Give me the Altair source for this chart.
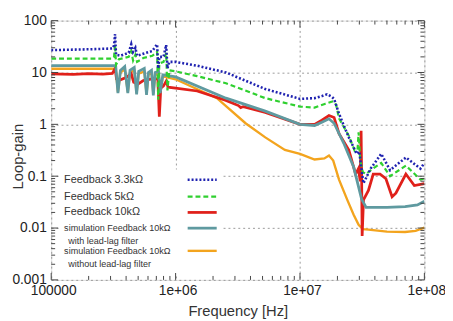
import altair as alt
import pandas as pd

# ---------------- data ----------------
fb33_freq = [1e5, 2e5, 3.1e5, 3.2e5, 3.26e5, 3.32e5, 3.6e5, 4.2e5, 4.4e5, 4.55e5, 4.75e5, 4.9e5,
             5.5e5, 6.5e5, 7.1e5, 7.25e5, 7.4e5, 8.0e5, 8.4e5, 8.6e5, 8.9e5, 1e6, 1.49e6, 2.54e6,
             5.26e6, 1e7, 1.31e7, 1.5e7, 1.65e7, 1.8e7, 1.88e7, 2.06e7, 2.25e7, 2.47e7, 2.7e7,
             2.85e7, 3.0e7, 3.1e7, 3.24e7, 3.7e7, 4.5e7, 5.3e7, 7.1e7, 9.3e7, 1e8]
fb33_gain = [27, 28, 29, 33, 55, 22, 21, 24, 35, 25, 30, 21,
             23, 26, 35, 12, 20, 20, 34, 12, 16, 16, 13.5, 10,
             4.8, 3.1, 3.2, 3.5, 3.8, 3.4, 3.1, 1.6, 0.95, 0.56, 0.36,
             0.27, 0.3, 0.15, 0.073, 0.14, 0.27, 0.13, 0.23, 0.14, 0.18]

fb5_freq = [1e5, 2e5, 3.1e5, 3.2e5, 3.26e5, 3.32e5, 3.5e5, 4.2e5, 4.4e5, 4.55e5, 4.75e5, 4.9e5,
            5.5e5, 6.5e5, 7.1e5, 7.25e5, 7.4e5, 8.0e5, 8.4e5, 8.6e5, 8.9e5, 1e6, 1.49e6, 2.54e6,
            5.26e6, 1e7, 1.31e7, 1.6e7, 1.85e7, 1.95e7, 2.06e7, 2.47e7, 2.75e7, 2.9e7, 2.96e7,
            3.05e7, 3.2e7, 3.4e7, 3.7e7, 4.5e7, 5.3e7, 7.1e7, 9.3e7, 1e8]
fb5_gain = [18.5, 18.5, 18.5, 20, 35, 14, 18, 20, 26, 17, 22, 16,
            19, 21, 25, 3.0, 15, 16, 24, 4.5, 11, 10.5, 8.5, 6.2,
            3.2, 2.2, 2.1, 2.5, 2.8, 2.4, 1.3, 0.6, 0.31, 0.32, 0.7,
            0.2, 0.12, 0.11, 0.13, 0.18, 0.1, 0.16, 0.086, 0.09]

fb10_freq = [1e5, 1.5e5, 2e5, 2.6e5, 3.1e5, 3.2e5, 3.26e5, 3.35e5, 3.6e5, 4e5, 4.4e5, 4.6e5,
             5e5, 5.5e5, 6.5e5, 7.2e5, 7.4e5, 7.6e5, 8.0e5, 8.4e5, 8.7e5, 1e6, 1.49e6, 2.54e6,
             3.2e6, 3.34e6, 3.5e6, 5.26e6, 1e7, 1.31e7, 1.5e7, 1.71e7, 1.88e7, 2.06e7, 2.47e7,
             2.8e7, 2.95e7, 3.05e7, 3.1e7, 3.13e7, 3.16e7, 3.24e7, 3.55e7, 3.88e7, 4.4e7, 4.9e7,
             5.5e7, 5.9e7, 7.1e7, 8.3e7, 1e8]
fb10_gain = [9.4, 9.2, 9.5, 9.3, 9.6, 11, 12, 7.5, 7.2, 8, 9.5, 6.5,
             6, 7, 7.5, 7.5, 1.4, 5, 5.5, 6.8, 5.2, 5.0, 4.4, 2.9,
             2.3, 2.1, 2.2, 1.7, 1.0, 1.0, 1.2, 1.48, 1.35, 0.66, 0.32,
             0.11, 0.14, 0.08, 0.75, 0.1, 0.007, 0.035, 0.053, 0.11, 0.11, 0.09,
             0.04, 0.047, 0.11, 0.066, 0.072]

simA_freq = [1e5, 3.3e5, 3.44e5, 3.6e5, 3.9e5, 4.13e5, 4.3e5, 4.65e5, 4.86e5, 5.05e5, 5.6e5,
             5.84e5, 6.05e5, 6.4e5, 6.62e5, 6.85e5, 7.3e5, 7.52e5, 7.9e5, 1e6, 2.54e6, 5.26e6,
             1e7, 1.31e7, 1.5e7, 1.71e7, 1.88e7, 2.25e7, 2.7e7, 3.13e7, 3.4e7, 5e7, 7e7, 8.8e7, 1e8]
simA_gain = [13.5, 13.5, 4.0, 11, 13, 4.0, 11, 12.5, 3.8, 10.5, 12,
             3.7, 10, 11, 3.6, 10, 10.5, 4, 9, 8.2, 3.2, 1.8,
             1.0, 0.95, 1.1, 1.28, 1.05, 0.43, 0.15, 0.036, 0.025, 0.025, 0.026, 0.028, 0.033]

simB_freq = [1e5, 3.3e5, 3.44e5, 3.6e5, 3.9e5, 4.13e5, 4.3e5, 4.65e5, 4.86e5, 5.05e5, 5.6e5,
             5.84e5, 6.05e5, 6.4e5, 6.62e5, 6.85e5, 7.3e5, 7.52e5, 7.9e5, 1e6, 2.15e6, 3.65e6,
             5.26e6, 7.56e6, 1e7, 1.31e7, 1.57e7, 1.71e7, 1.85e7, 2.06e7, 2.4e7, 2.7e7, 2.96e7,
             3.2e7, 3.55e7, 5e7, 7e7, 8.5e7, 1e8]
simB_gain = [11.8, 11.8, 4.2, 10, 11.5, 4.2, 10, 11, 4, 9.5, 10.5,
             3.9, 9, 10, 3.9, 9, 9.5, 4.2, 8.4, 7.4, 3.2, 1.05,
             0.56, 0.32, 0.27, 0.21, 0.22, 0.25, 0.2, 0.086, 0.035, 0.018, 0.0115,
             0.0095, 0.0093, 0.0085, 0.0084, 0.0088, 0.0102]

series_names = ["Feedback 3.3kΩ", "Feedback 5kΩ", "Feedback 10kΩ",
                "simulation Feedback 10kΩ", "simulation  Feedback 10kΩ"]
series_sub = ["", "", "", "with lead-lag filter", "without lead-lag filter"]
series_colors = ["#1f22b0", "#2fd02f", "#e0201a", "#5f9aa0", "#f3a41e"]

# legend placement (data coordinates)
legend_text_freq = 1.27e5
legend_sub_freq = 1.37e5
legend_line_freq = [1.25e6, 2.14e6]
legend_y = [0.085, 0.0404, 0.020, 0.00995, 0.00363]
legend_sub_y = [None, None, None, 0.0056, 0.00206]
legend_box_freq = [1.2e5, 2.37e6]
legend_box_gain = [0.00125, 0.135]

x_ticks = [1e5, 1e6, 1e7, 1e8]
x_tick_labels = ["100000", "1e+06", "1e+07", "1e+08"]
y_ticks = [0.001, 0.01, 0.1, 1, 10, 100]
y_tick_labels = ["0.001", "0.01", "0.1", "1", "10", "100"]
x_minor = [k * 10 ** n for n in (5, 6, 7) for k in range(2, 10)]
y_minor = [k * 10.0 ** n for n in (-3, -2, -1, 0, 1) for k in range(2, 10)]

# ---------------- chart ----------------
W, H = 380, 264
FONT = "Liberation Sans"


def label_expr(vals, labs):
    s = ""
    for v, l in zip(vals, labs):
        s += f"abs(datum.value - {v}) < {v} * 1e-6 ? '{l}' : "
    return s + "''"


xscale = alt.Scale(type="log", domain=[1e5, 1e8], nice=False)
yscale = alt.Scale(type="log", domain=[0.001, 100], nice=False)

xaxis = alt.Axis(values=x_ticks, labelExpr=label_expr(x_ticks, x_tick_labels), ticks=False,
                 grid=True, gridDash=[2, 3], gridColor="#9a9a9a", domain=False,
                 labelFontSize=14, labelFont=FONT, labelColor="#222", labelPadding=4,
                 labelOffset=2,
                 title="Frequency [Hz]", titleFontSize=15, titleFont=FONT, titleFontWeight="normal",
                 titleColor="#333", titleY=24, titleBaseline="top", labelFlush=False)
yaxis = alt.Axis(values=y_ticks, labelExpr=label_expr(y_ticks, y_tick_labels), ticks=False,
                 grid=True, gridDash=[2, 3], gridColor="#9a9a9a", domain=False,
                 labelFontSize=14, labelFont=FONT, labelColor="#222", labelPadding=5,
                 title="Loop-gain", titleFontSize=15, titleFont=FONT, titleFontWeight="normal",
                 titleColor="#333", titleX=-26, titleY=138, titleAlign="center", labelFlush=False)

X = alt.X("f:Q", scale=xscale, axis=xaxis)
Y = alt.Y("g:Q", scale=yscale, axis=yaxis)

freqs = [fb33_freq, fb5_freq, fb10_freq, simA_freq, simB_freq]
gains = [fb33_gain, fb5_gain, fb10_gain, simA_gain, simB_gain]
styles = [
    dict(strokeWidth=2.6, strokeDash=[2, 2]),
    dict(strokeWidth=2.2, strokeDash=[5, 3]),
    dict(strokeWidth=2.8),
    dict(strokeWidth=2.8),
    dict(strokeWidth=2.4),
]

# legend background box
box_df = pd.DataFrame({"f": [legend_box_freq[0]], "f2": [legend_box_freq[1]],
                       "g": [legend_box_gain[0]], "g2": [legend_box_gain[1]]})
box = alt.Chart(box_df).mark_rect(fill="white").encode(x=X, x2="f2:Q", y=Y, y2="g2:Q")

layers = [box]
draw_order = [4, 2, 3, 1, 0]
for i in draw_order:
    df = pd.DataFrame({"f": freqs[i], "g": gains[i]})
    layers.append(alt.Chart(df).mark_line(color=series_colors[i], clip=True, **styles[i])
                  .encode(x=X, y=Y, order=alt.Order("f:Q")))

# legend samples and texts
for i in range(5):
    ldf = pd.DataFrame({"f": [legend_line_freq[0]], "f2": [legend_line_freq[1]], "g": [legend_y[i]]})
    layers.append(alt.Chart(ldf).mark_rule(color=series_colors[i], **styles[i])
                  .encode(x=X, x2="f2:Q", y=Y))

main_df = pd.DataFrame({"f": [legend_text_freq] * 3, "g": legend_y[:3], "t": series_names[:3]})
layers.append(alt.Chart(main_df).mark_text(align="left", baseline="middle", fontSize=11,
                                           font=FONT, color="#333")
              .encode(x=X, y=Y, text="t:N"))
sim_df = pd.DataFrame({"f": [legend_text_freq] * 2, "g": legend_y[3:], "t": series_names[3:]})
layers.append(alt.Chart(sim_df).mark_text(align="left", baseline="middle", fontSize=9.2,
                                          font=FONT, color="#333")
              .encode(x=X, y=Y, text="t:N"))
sub_df = pd.DataFrame({"f": [legend_sub_freq] * 2, "g": legend_sub_y[3:], "t": series_sub[3:]})
layers.append(alt.Chart(sub_df).mark_text(align="left", baseline="middle", fontSize=9.2,
                                          font=FONT, color="#333")
              .encode(x=X, y=Y, text="t:N"))

# inward ticks on all four sides
tick_color = "#444"
for vals, ln in ((x_ticks, 7), (x_minor, 4)):
    tdf = pd.DataFrame({"f": vals})
    layers.append(alt.Chart(tdf).mark_rule(color=tick_color, strokeWidth=1)
                  .encode(x=X, y=alt.value(H), y2=alt.value(H - ln)))
    layers.append(alt.Chart(tdf).mark_rule(color=tick_color, strokeWidth=1)
                  .encode(x=X, y=alt.value(0), y2=alt.value(ln)))
for vals, ln in ((y_ticks, 7), (y_minor, 4)):
    tdf = pd.DataFrame({"g": vals})
    layers.append(alt.Chart(tdf).mark_rule(color=tick_color, strokeWidth=1)
                  .encode(y=Y, x=alt.value(0), x2=alt.value(ln)))
    layers.append(alt.Chart(tdf).mark_rule(color=tick_color, strokeWidth=1)
                  .encode(y=Y, x=alt.value(W), x2=alt.value(W - ln)))

chart = alt.layer(*layers).properties(
    width=W, height=H,
    autosize=alt.AutoSizeParams(type="none"),
    padding={"left": 44, "top": 10, "right": 21, "bottom": 39},
).configure_view(stroke="#333", strokeWidth=1.2).configure(background="white")

chart.save("out.html", embed_options={"renderer": "svg", "actions": False})
